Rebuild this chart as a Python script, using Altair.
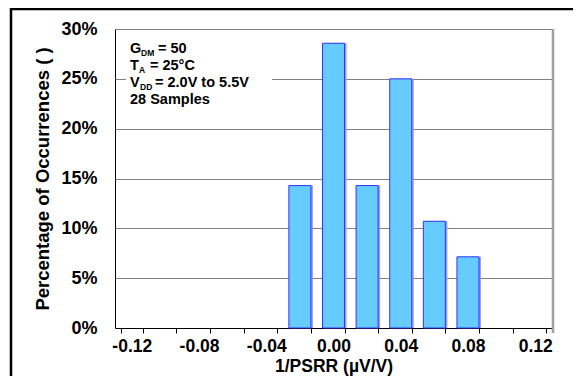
import json
import altair as alt
import pandas as pd

# ---- data ----
bins = ["-0.12", "-0.10", "-0.08", "-0.06", "-0.04", "-0.02", "0.00",
        "0.02", "0.04", "0.06", "0.08", "0.10", "0.12"]
tick_labels = ["-0.12", "-0.08", "-0.04", "0.00", "0.04", "0.08", "0.12"]
bar_bins = ["-0.02", "0.00", "0.02", "0.04", "0.06", "0.08"]
pct = [14.29, 28.57, 14.29, 25.0, 10.71, 7.14]
y_ticks = [0, 5, 10, 15, 20, 25, 30]

df = pd.DataFrame({"bin": bar_bins, "pct": pct})
one = pd.DataFrame({"a": [0]})

W, H = 437, 299
FONT = "Liberation Sans"

label_expr = "indexof(" + json.dumps(tick_labels) + ", datum.value) >= 0 ? datum.value : ''"

x_enc = alt.X(
    "bin:N",
    sort=bins,
    scale=alt.Scale(domain=bins, paddingInner=0.345, paddingOuter=0.1725),
    axis=alt.Axis(
        title="1/PSRR (µV/V)",
        labelExpr=label_expr,
        labelAngle=0,
        tickBand="extent",
        tickSize=5,
        tickColor="black",
        domainColor="black",
        labelPadding=4,
        labelFontSize=17.5,
        titleFontSize=17.5,
        titleY=43.5,
        titleBaseline="alphabetic",
        grid=False,
    ),
)
y_enc = alt.Y(
    "pct:Q",
    scale=alt.Scale(domain=[0, 30], nice=False),
    axis=alt.Axis(
        title="Percentage of Occurrences ( )",
        values=y_ticks,
        labelExpr="datum.value + '%'",
        grid=True,
        gridColor="#808080",
        gridWidth=1,
        domain=False,
        ticks=False,
        labelPadding=18,
        labelFontSize=18,
        titleFontSize=18.5,
        titleX=-67,
        titleY=H / 2,
        titleAngle=270,
        titleAlign="center",
        titleBaseline="alphabetic",
    ),
)

shadow = alt.Chart(df).mark_bar(color="#9999FF", xOffset=2).encode(x=x_enc, y=y_enc)
bars = alt.Chart(df).mark_bar(
    fill="#66CCFF", stroke="#3333FF", strokeWidth=1
).encode(x=x_enc, y=y_enc)

# right plot border (grey shadow)
right_border = alt.Chart(one).mark_rule(color="#A0A0A0", strokeWidth=2.5).encode(
    x=alt.value(W + 1), y=alt.value(0), y2=alt.value(H + 5)
)
# outer frame (top and left)
frame_top = alt.Chart(one).mark_rule(color="black", strokeWidth=2.5).encode(
    x=alt.value(-105), x2=alt.value(W + 21), y=alt.value(-20)
)
frame_left = alt.Chart(one).mark_rule(color="black", strokeWidth=2.5).encode(
    x=alt.value(-104), y=alt.value(-21), y2=alt.value(H + 48)
)

# annotation box
box = alt.Chart(one).mark_rect(color="white").encode(
    x=alt.value(11), x2=alt.value(157), y=alt.value(9), y2=alt.value(80)
)


def txt(s, x, y, size):
    return alt.Chart(one).mark_text(
        text=s, align="left", baseline="alphabetic", font=FONT,
        fontWeight="bold", fontSize=size, color="black"
    ).encode(x=alt.value(x), y=alt.value(y))


MAIN, SUB = 14.5, 8.5
ann = [
    txt("G", 15, 24, MAIN), txt("DM", 26, 27, SUB), txt("= 50", 43, 24, MAIN),
    txt("T", 15, 41, MAIN), txt("A", 24, 44, SUB), txt("= 25°C", 35, 41, MAIN),
    txt("V", 15, 58, MAIN), txt("DD", 25, 61, SUB), txt("= 2.0V to 5.5V", 40, 58, MAIN),
    txt("28 Samples", 15, 75, MAIN),
]

chart = alt.layer(
    box, shadow, bars, right_border, frame_top, frame_left, *ann
).properties(
    width=W,
    height=H,
    autosize=alt.AutoSizeParams(type="none"),
    padding={"left": 107, "top": 21, "right": 21, "bottom": 48},
).configure_view(
    stroke="black", strokeWidth=1
).configure_axis(
    labelFont=FONT, titleFont=FONT, labelFontWeight="bold", titleFontWeight="bold",
    labelColor="black", titleColor="black"
)

chart.save("out.html", embed_options={"renderer": "svg", "actions": False})
